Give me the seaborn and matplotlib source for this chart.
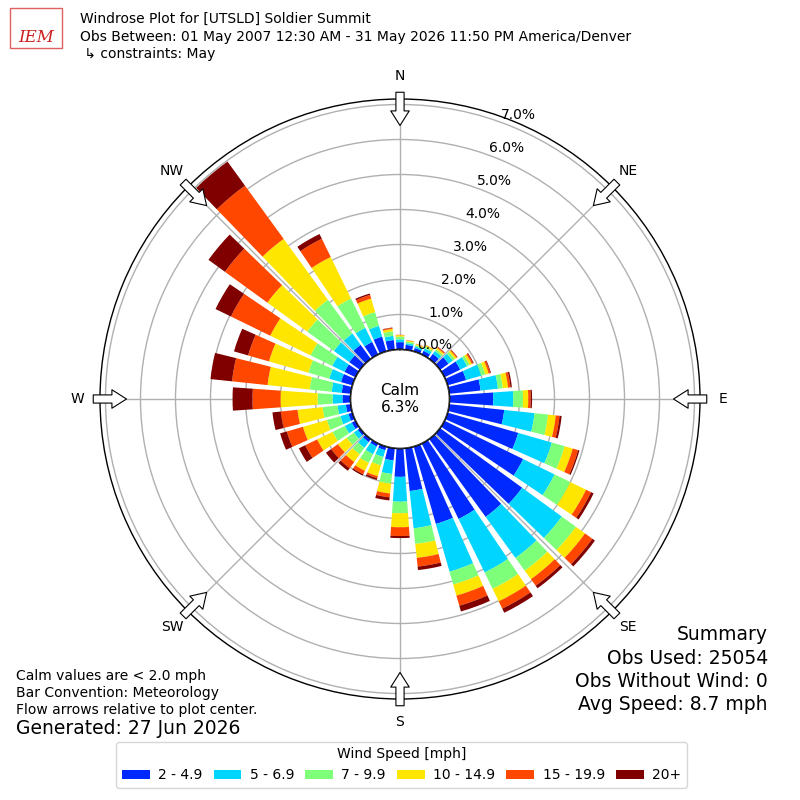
import numpy as np
import matplotlib
matplotlib.use("Agg")
import matplotlib.pyplot as plt
from matplotlib.patches import Circle, Rectangle
import seaborn as sns

# direction bins (deg, meteorological) and speed bins
directions = np.arange(0, 360, 10)
speed_labels = ['2 - 4.9', '5 - 6.9', '7 - 9.9', '10 - 14.9', '15 - 19.9', '20+']

# frequency [%] for each direction, one list per speed bin
spd_2_5 = [0.21, 0.14, 0.10, 0.12, 0.18, 0.30, 0.50, 0.55, 0.90, 1.25, 1.58, 2.10,
           2.50, 2.90, 2.75, 2.40, 2.30, 1.23, 0.81, 0.35, 0.11, 0.10, 0.11, 0.08,
           0.12, 0.12, 0.14, 0.23, 0.26, 0.34, 0.35, 0.38, 0.50, 0.40, 0.44, 0.28]
spd_5_7 = [0.08, 0.05, 0.05, 0.08, 0.10, 0.15, 0.22, 0.45, 0.50, 0.57, 0.87, 1.00,
           1.00, 1.40, 1.45, 1.70, 1.42, 1.07, 0.71, 0.39, 0.20, 0.24, 0.20, 0.14,
           0.22, 0.24, 0.24, 0.28, 0.29, 0.35, 0.39, 0.54, 0.40, 0.45, 0.32, 0.12]
spd_7_10 = [0.08, 0.05, 0.04, 0.05, 0.06, 0.07, 0.08, 0.12, 0.14, 0.28, 0.39, 0.38,
            0.50, 0.50, 0.45, 0.52, 0.38, 0.45, 0.33, 0.28, 0.25, 0.28, 0.23, 0.25,
            0.39, 0.40, 0.43, 0.43, 0.63, 0.62, 0.69, 0.94, 1.19, 0.93, 0.41, 0.13]
spd_10_15 = [0.04, 0.03, 0.03, 0.04, 0.05, 0.06, 0.07, 0.10, 0.15, 0.15, 0.22, 0.24,
             0.50, 0.32, 0.30, 0.40, 0.33, 0.40, 0.40, 0.28, 0.32, 0.25, 0.27, 0.31,
             0.49, 0.71, 0.72, 1.06, 1.21, 1.17, 1.28, 1.41, 2.15, 1.32, 0.40, 0.07]
spd_15_20 = [0.01, 0.01, 0.01, 0.01, 0.03, 0.03, 0.04, 0.05, 0.07, 0.07, 0.11, 0.16,
             0.16, 0.26, 0.23, 0.23, 0.30, 0.25, 0.25, 0.11, 0.06, 0.11, 0.22, 0.24,
             0.38, 0.48, 0.48, 0.80, 1.02, 0.62, 1.25, 1.50, 1.88, 0.58, 0.11, 0.03]
spd_20 = [0.00, 0.00, 0.00, 0.00, 0.01, 0.01, 0.02, 0.02, 0.04, 0.04, 0.06, 0.04,
          0.08, 0.09, 0.09, 0.13, 0.17, 0.10, 0.06, 0.09, 0.05, 0.04, 0.09, 0.18,
          0.20, 0.20, 0.24, 0.57, 0.62, 0.42, 0.49, 0.58, 0.85, 0.15, 0.04, 0.01]
speed_bins = [spd_2_5, spd_5_7, spd_7_10, spd_10_15, spd_15_20, spd_20]

calm_pct = 6.3
rings = [0, 1, 2, 3, 4, 5, 6, 7]
compass = ['N', 'NE', 'E', 'SE', 'S', 'SW', 'W', 'NW']

R0 = 1.414    # calm hole radius, in % units
RMAX = 7.157

sns.set_theme(style="white")
plt.rcParams['font.family'] = ['DejaVu Sans']
plt.rcParams['text.color'] = 'black'
colors = sns.color_palette(plt.get_cmap('jet')(np.linspace(0, 1, 7)[1:]))

fig = plt.figure(figsize=(8, 8), dpi=100)
ax = fig.add_axes([0.125, 0.12625, 0.75, 0.75], projection='polar')
ax.set_theta_zero_location('N')
ax.set_theta_direction(-1)
ax.set_rorigin(-R0)
ax.set_ylim(0, RMAX)

theta = np.radians(directions)
bottom = np.zeros(len(directions))
handles = []
for vals, col, lab in zip(speed_bins, colors, speed_labels):
    b = ax.bar(theta, vals, width=np.radians(8), bottom=bottom, color=col,
               linewidth=0, label=lab, zorder=1)
    handles.append(b)
    bottom = bottom + np.array(vals)

ax.set_xticks(np.radians(np.arange(0, 360, 45)))
ax.set_xticklabels([])
ax.set_yticks(rings)
ax.set_yticklabels([])
ax.grid(True, color='#b0b0b0', linewidth=1.0)
ax.spines['polar'].set_color('black')
ax.spines['polar'].set_linewidth(1.0)

for r in rings:
    t = ax.text(np.radians(20), r, f'{r:.1f}%', ha='left', va='bottom',
                fontsize=10, color='black', zorder=5)
    t.set_clip_on(False)

for ang, lab in zip(np.arange(0, 360, 45), compass):
    th = np.radians(ang)
    ax.text(th, 7.8, lab, ha='center', va='center', fontsize=10, clip_on=False)
    ax.annotate('', xy=(th, 6.4), xytext=(th, 7.35),
                arrowprops=dict(arrowstyle='simple,head_length=0.75,head_width=0.95,tail_width=0.42',
                                fc='white', ec='black', lw=0.8, mutation_scale=14,
                                shrinkA=0, shrinkB=0),
                annotation_clip=False, zorder=6)

calm = Circle((0.5, 0.5), 0.5 * R0 / (RMAX + R0), transform=ax.transAxes,
              facecolor='white', edgecolor='black', lw=1.0, zorder=4)
ax.add_patch(calm)
ax.text(0.5, 0.5, f'Calm\n{calm_pct:.1f}%', transform=ax.transAxes,
        ha='center', va='center', fontsize=11, zorder=5)

# header
fig.text(0.1, 1 - 19 / 800, 'Windrose Plot for [UTSLD] Soldier Summit', fontsize=10, va='center')
fig.text(0.1, 1 - 37 / 800, 'Obs Between: 01 May 2007 12:30 AM - 31 May 2026 11:50 PM America/Denver',
         fontsize=10, va='center')
fig.text(0.1, 1 - 54 / 800, ' \u21b3 constraints: May', fontsize=10, va='center')

# logo stand-in
fig.patches.append(Rectangle((10 / 800, 1 - 48 / 800), 52 / 800, 40 / 800, transform=fig.transFigure,
                             fill=False, ec='#e06060', lw=1))
fig.text(36 / 800, 1 - 37 / 800, 'IEM', fontsize=12, color='#cc2020', style='italic',
         family='serif', ha='center', va='center')

# summary
summary = ['Summary', 'Obs Used: 25054', 'Obs Without Wind: 0', 'Avg Speed: 8.7 mph']
for i, s in enumerate(summary):
    fig.text(768 / 800, 1 - (635 + 23.3 * i) / 800, s, fontsize=13.5, ha='right', va='center')

notes = ['Calm values are < 2.0 mph', 'Bar Convention: Meteorology', 'Flow arrows relative to plot center.']
for i, s in enumerate(notes):
    fig.text(16 / 800, 1 - (676 + 17 * i) / 800, s, fontsize=10, va='center')
fig.text(16 / 800, 1 - 729 / 800, 'Generated: 27 Jun 2026', fontsize=13.5, va='center')

fig.legend(handles, speed_labels, loc='center', bbox_to_anchor=(0.502, 0.044), ncol=6,
           title='Wind Speed [mph]', fontsize=10, title_fontsize=10, frameon=True,
           edgecolor='#cccccc', fancybox=True, columnspacing=0.8, handletextpad=0.6)

fig.savefig('out.png', dpi=100)
